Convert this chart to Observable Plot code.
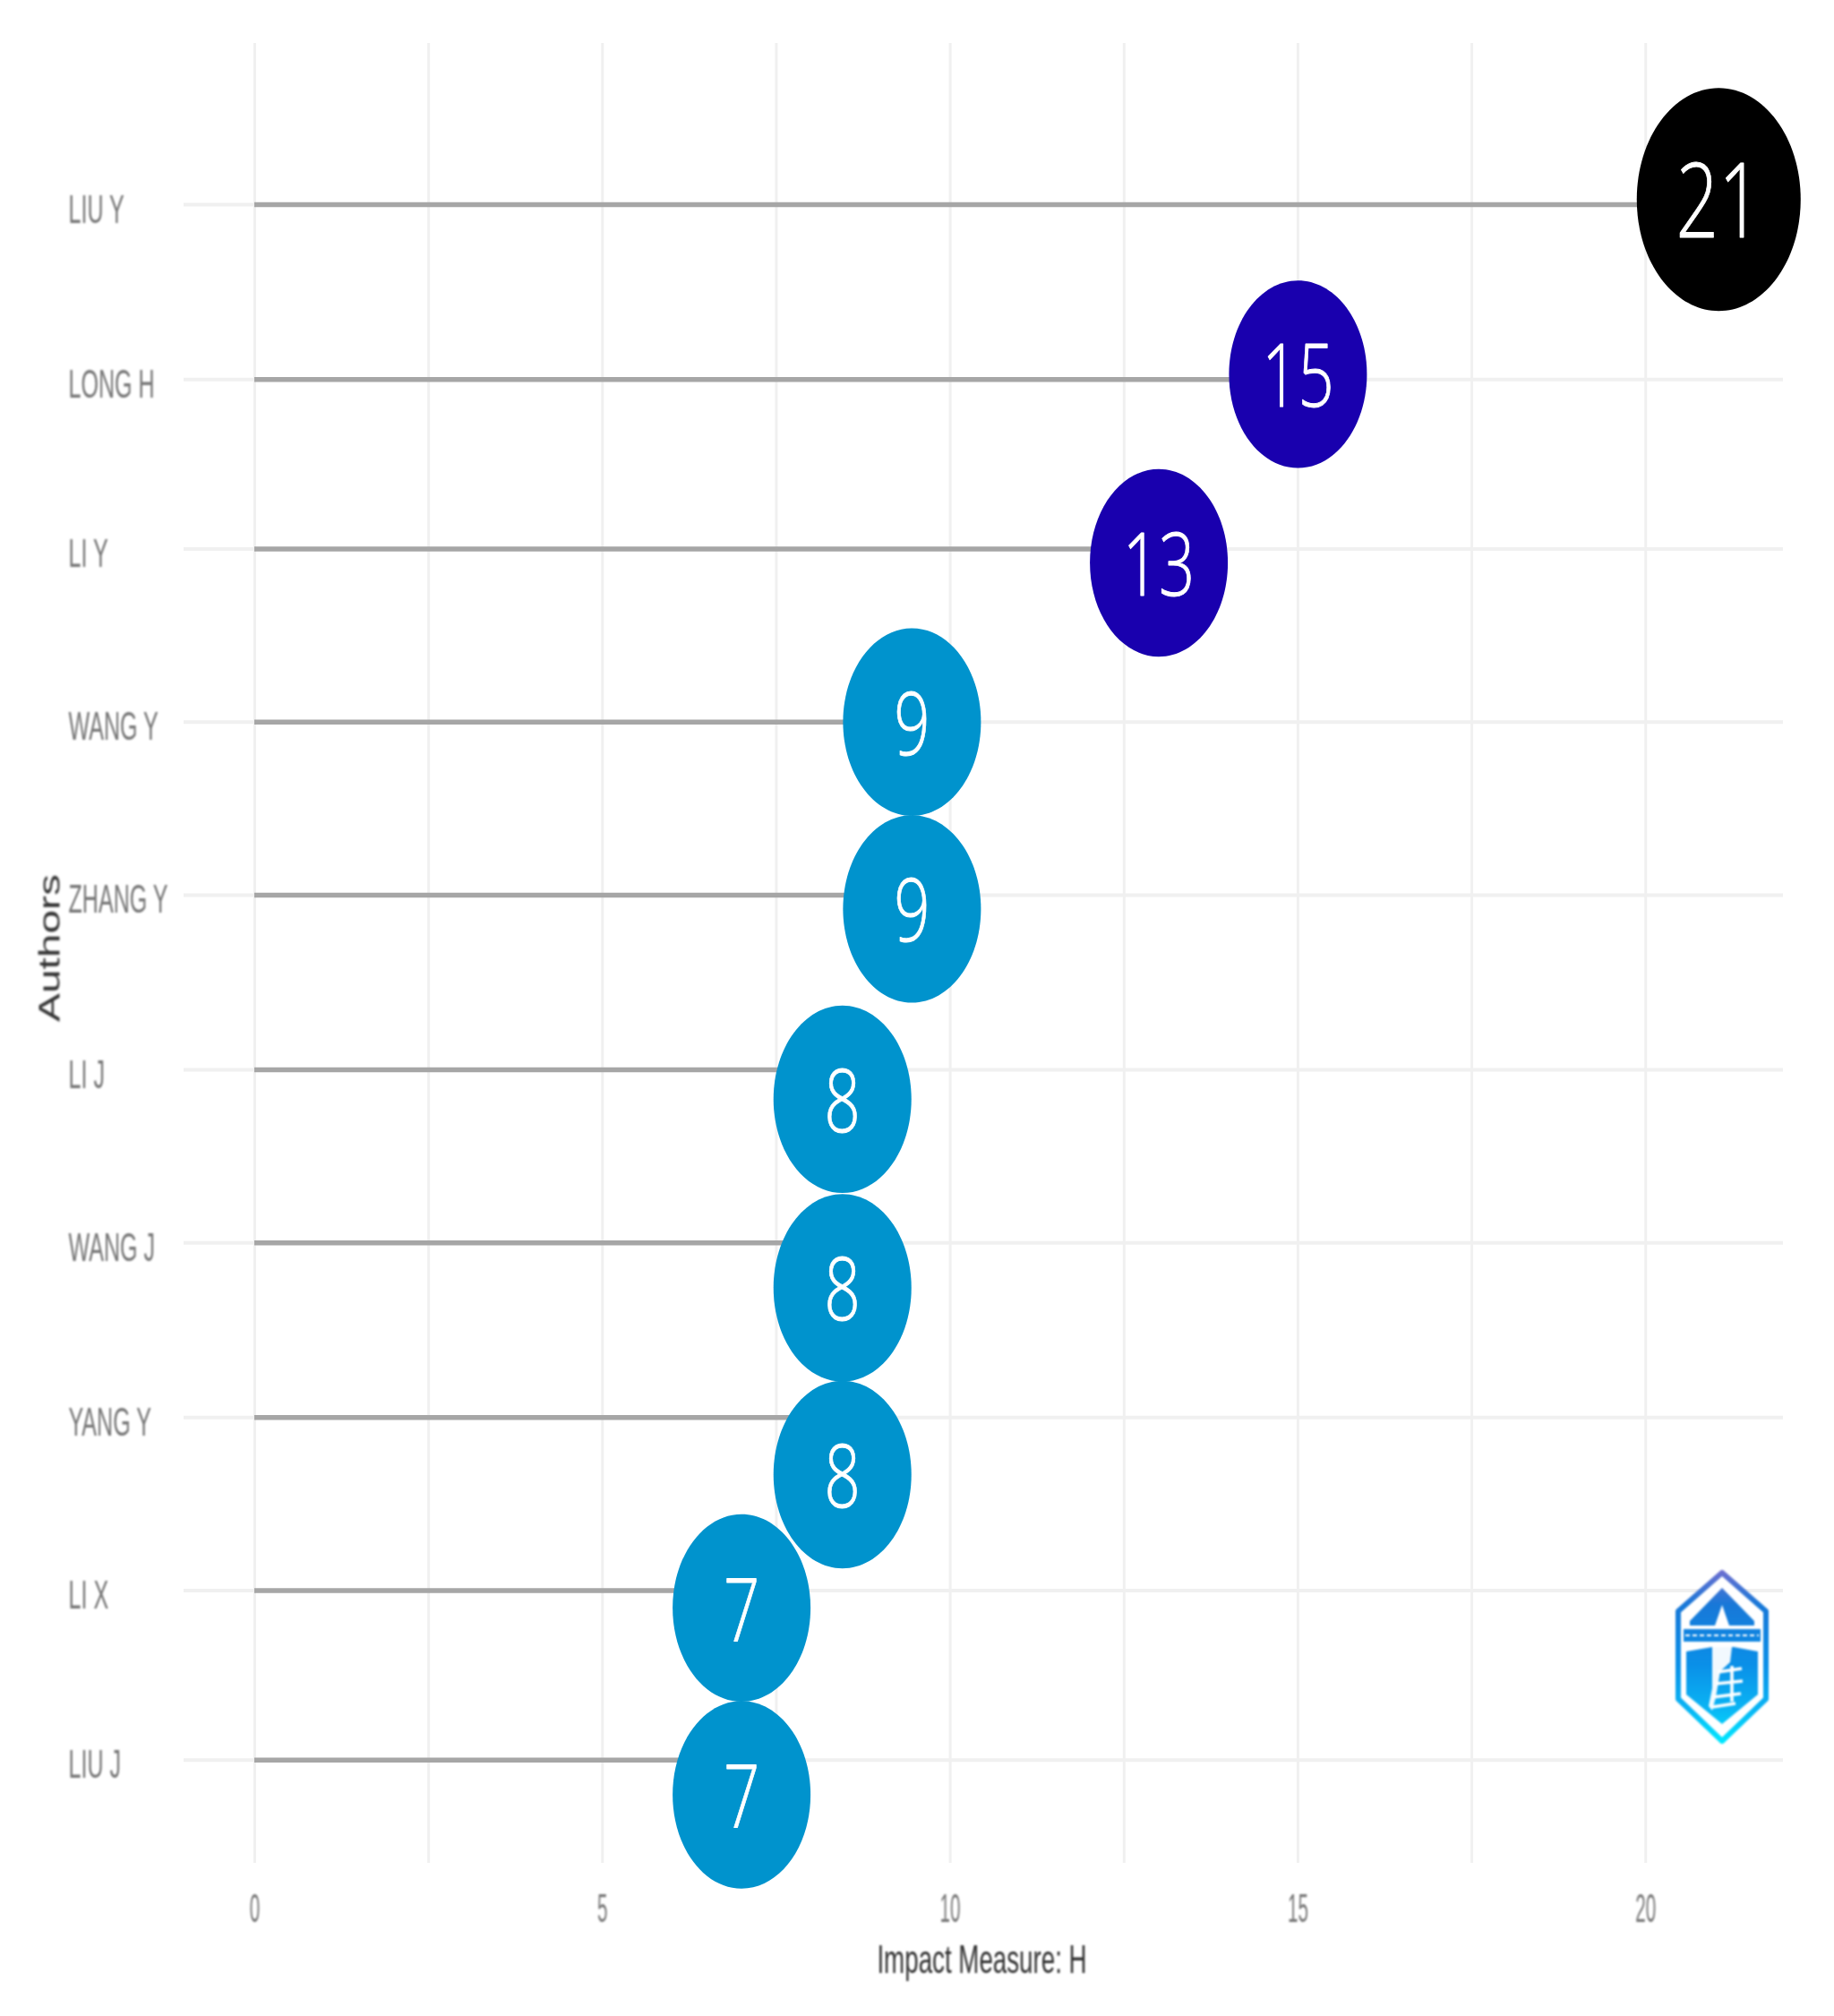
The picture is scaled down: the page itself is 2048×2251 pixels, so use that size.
<!DOCTYPE html>
<html>
<head>
<meta charset="utf-8">
<script src="https://cdn.jsdelivr.net/npm/d3@7"></script>
<script src="https://cdn.jsdelivr.net/npm/@observablehq/plot@0.6"></script>
<style>
  html, body { margin: 0; padding: 0; background: #fff; }
  #wrap { position: relative; width: 2048px; height: 2251px; overflow: hidden; }
  #logo { position: absolute; left: 1820px; top: 1720px; filter: blur(1px); }
  .soft { filter: blur(0.8px); }
</style>
</head>
<body>
<div id="wrap"></div>
<script>
const authors = ["LIU Y", "LONG H", "LI Y", "WANG Y", "ZHANG Y", "LI J", "WANG J", "YANG Y", "LI X", "LIU J"];
const hIndex = [21, 15, 13, 9, 9, 8, 8, 8, 7, 7];
// Row position of each stem, and of each bubble, which the source picture displaces
const stemRow = [0, 1.01, 1.99, 2.99, 3.99, 5.0, 6.0, 7.01, 8.01, 8.99];
const bubbleRow = [-0.03, 0.98, 2.07, 2.99, 4.07, 5.17, 6.26, 7.34, 8.11, 9.19];
// Where each bubble's centre reads on the x axis
const bubbleH = [21.05, 15, 13, 9.45, 9.45, 8.45, 8.45, 8.45, 7, 7];
const xLabelTicks = [0, 5, 10, 15, 20];
const xGridTicks = [0, 2.5, 5, 7.5, 10, 12.5, 15, 17.5, 20];

const rows = authors.map((name, i) => ({name, h: hIndex[i], stem: stemRow[i], bubble: bubbleRow[i], at: bubbleH[i]}));

function ovalSymbol(stretch) {
  return {
    draw(ctx, size) {
      const rx = Math.sqrt(size / Math.PI), ry = rx * stretch, k = 0.5523;
      ctx.moveTo(rx, 0);
      ctx.bezierCurveTo(rx, k * ry, k * rx, ry, 0, ry);
      ctx.bezierCurveTo(-k * rx, ry, -rx, k * ry, -rx, 0);
      ctx.bezierCurveTo(-rx, -k * ry, -k * rx, -ry, 0, -ry);
      ctx.bezierCurveTo(k * rx, -ry, rx, -k * ry, rx, 0);
      ctx.closePath();
    }
  };
}

const gridColor = "#f0f0f0";
const sans = "'Liberation Sans', Arial, sans-serif";
const digit = {x: "at", y: "bubble", text: d => String(d.h), dy: 5, fontWeight: 300, fontFamily: "'Open Sans'",
  fill: "#fff", stroke: "#fff", strokeWidth: 0.9, className: "big"};

const chart = Plot.plot({
  width: 2048,
  height: 2251,
  marginLeft: 205,
  marginRight: 57,
  marginTop: 48,
  marginBottom: 171,
  style: {background: "#fff", fontFamily: sans},
  x: {domain: [-1.017, 21.98], label: null},
  y: {domain: [9.586, -0.932], label: null},
  color: {type: "threshold", domain: [10, 20], range: ["#0093cd", "#1900ae", "#000000"]},
  marks: [
    Plot.ruleX(xGridTicks, {stroke: gridColor, strokeWidth: 3}),
    Plot.ruleY(stemRow, {stroke: gridColor, strokeWidth: 4}),
    Plot.ruleY(rows, {y: "stem", x1: 0, x2: "h", stroke: "#a6a6a6", strokeWidth: 5.5}),
    Plot.axisX({ticks: xLabelTicks, anchor: "bottom", tickSize: 0, tickPadding: 34, fontSize: 44, fill: "#777", label: null}),
    Plot.axisY({ticks: stemRow, anchor: "left", tickSize: 0, tickPadding: 129, textAnchor: "start", dy: 6, fontSize: 44, fill: "#777", label: null,
      tickFormat: d => authors[stemRow.indexOf(d)]}),
    Plot.text(["Impact Measure: H"], {frameAnchor: "bottom", dy: 122, dx: -2, fontSize: 44, fill: "#333", className: "xtitle"}),
    Plot.text(["Authors"], {frameAnchor: "left", textAnchor: "middle", rotate: -90, dx: -150, dy: -6, fontSize: 33, fill: "#333", className: "ytitle"}),
    Plot.dot(rows.filter(d => d.h >= 20), {x: "at", y: "bubble", fill: "h", r: 91.5, symbol: ovalSymbol(1.36)}),
    Plot.dot(rows.filter(d => d.h < 20), {x: "at", y: "bubble", fill: "h", r: 77, symbol: ovalSymbol(1.36)}),
    Plot.text(rows.filter(d => d.h >= 20), {...digit, fontSize: 116}),
    Plot.text(rows.filter(d => d.h < 20), {...digit, fontSize: 98})
  ]
});
document.getElementById("wrap").appendChild(chart);

function squeeze(sel, factor, soft) {
  chart.querySelectorAll(sel).forEach(t => {
    const len = t.getComputedTextLength();
    t.setAttribute("textLength", len * factor);
    t.setAttribute("lengthAdjust", "spacingAndGlyphs");
    if (soft) t.classList.add("soft");
  });
}
squeeze('g[aria-label="y-axis tick label"] text', 0.57, true);
squeeze('g[aria-label="x-axis tick label"] text', 0.47, true);
squeeze('.xtitle text', 0.63, true);
squeeze('.ytitle text', 1.45, true);
squeeze('.big text', 0.72, false);

// Institution logo stamped on the lower right of the source image
document.getElementById("wrap").insertAdjacentHTML("beforeend", `
<svg id="logo" width="180" height="240" viewBox="0 0 180 240" aria-hidden="true">
  <defs><linearGradient id="lg" gradientUnits="userSpaceOnUse" x1="0" y1="33" x2="0" y2="226">
    <stop offset="0" stop-color="#6f6fd0"/><stop offset="0.2" stop-color="#1878d8"/>
    <stop offset="0.55" stop-color="#0a90e8"/><stop offset="0.8" stop-color="#0ab4f4"/><stop offset="1" stop-color="#00e8ff"/>
  </linearGradient></defs>
  <path d="M103 36 L152 79 L152 177 L103 224 L54 177 L54 79 Z" fill="#fff" stroke="url(#lg)" stroke-width="6" stroke-linejoin="round"/>
  <path d="M103 53 L139 90 L139 95 L67 95 L67 90 Z" fill="url(#lg)"/>
  <path d="M103 72 L112 98 L94 98 Z" fill="#fff"/>
  <rect x="60" y="99" width="86" height="14" fill="url(#lg)"/>
  <path d="M63 124 L92 119 L116 119 L143 124 L143 172 L103 205 L63 172 Z" fill="url(#lg)"/>
  <path d="M92 119 L114 119 L112 136 L101 146 L96 175 L92 190 L88 185 L92 165 Z" fill="#fff" opacity="0.95"/>
  <path d="M98 147 L125 143 M96 160 L126 157 M93 175 L124 171 M92 186 L118 182 M114 140 L114 180" fill="none" stroke="#fff" stroke-width="3.6"/>
  <path d="M62 106 H144" stroke="#fff" stroke-width="1.8" stroke-dasharray="5 3"/>
</svg>`);
</script>
</body>
</html>
